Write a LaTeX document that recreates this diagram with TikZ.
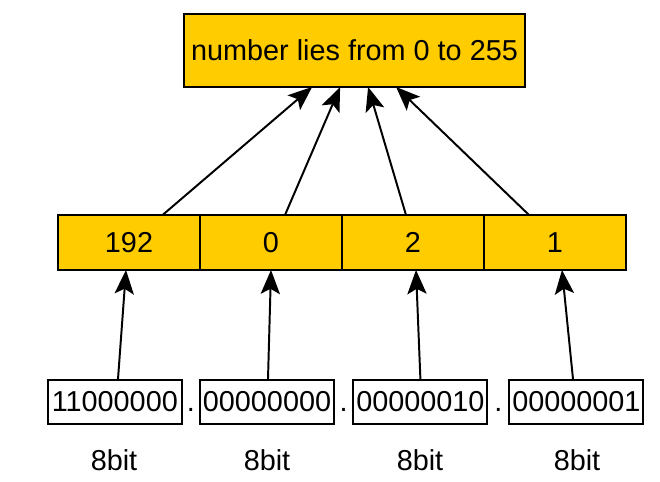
\documentclass[tikz,border=0pt]{standalone}
\usepackage{fontspec}
\setmainfont{Liberation Sans}
\usepackage{tikz}
\usetikzlibrary{arrows.meta}
\usetikzlibrary{calc}
\usetikzlibrary{scopes}
\usepackage{xcolor}

\begin{document}
\begin{tikzpicture}[
	every node/.append style={font=\fontsize{20.5}{24}\selectfont},
	octet/.style={draw=black,fill=amber,line width=1.4pt,outer sep=0pt,inner sep=0pt,minimum width=3.55cm,minimum height=1.375cm},
	bits/.style={draw=black,fill=white,line width=1.4pt,inner sep=0.05cm,minimum width=3.35cm,minimum height=1.1cm},
	up/.style={-{Stealth[length=0.6cm,width=0.48cm,inset=0.13cm]},line width=1.4pt}
]

\definecolor{amber}{RGB}{255,204,0};

\useasboundingbox (0,0) rectangle (16.5,12.05);

%range box
\node [octet,minimum width=8.525cm,minimum height=1.825cm] (range) at (8.8625,10.7875) {number lies from 0 to 255};

%decimal octets
\node [octet] (dec1) at (3.225,5.9875) {192};
\node [octet,anchor=west] (dec2) at (dec1.east) {0};
\node [octet,anchor=west] (dec3) at (dec2.east) {2};
\node [octet,anchor=west] (dec4) at (dec3.east) {1};

%binary octets
\node [bits] (bin1) at (2.87,2.0) {11000000};
\node [bits] (bin2) at (6.675,2.0) {00000000};
\node [bits] (bin3) at (10.51,2.0) {00000010};
\node [bits] (bin4) at (14.41,2.0) {00000001};

\node [anchor=base] (dot1) at ($(bin1.base east)!0.5!(bin2.base west)$) {.};
\node [anchor=base] (dot2) at ($(bin2.base east)!0.5!(bin3.base west)$) {.};
\node [anchor=base] (dot3) at ($(bin3.base east)!0.5!(bin4.base west)$) {.};

\node (len1) at (2.85,0.55) {8bit};
\node (len2) at (6.675,0.55) {8bit};
\node (len3) at (10.5,0.55) {8bit};
\node (len4) at (14.425,0.55) {8bit};

{[up]
	% binary to decimal
	\draw ([xshift=0.08cm]bin1.north) -- ([xshift=-0.075cm]dec1.south);
	\draw ([xshift=0.025cm]bin2.north) -- (dec2.south);
	\draw (bin3.north) -- ([xshift=0.075cm]dec3.south);
	\draw ([xshift=-0.085cm]bin4.north) -- ([xshift=0.175cm]dec4.south);

	% decimal to range
	\draw ([xshift=0.84cm]dec1.north) -- ([xshift=-1.06cm]range.south);
	\draw ([xshift=0.35cm]dec2.north) -- ([xshift=-0.36cm]range.south);
	\draw ([xshift=-0.175cm]dec3.north) -- ([xshift=0.34cm]range.south);
	\draw ([xshift=-0.65cm]dec4.north) -- ([xshift=1.04cm]range.south);
}

\end{tikzpicture}
\end{document}
